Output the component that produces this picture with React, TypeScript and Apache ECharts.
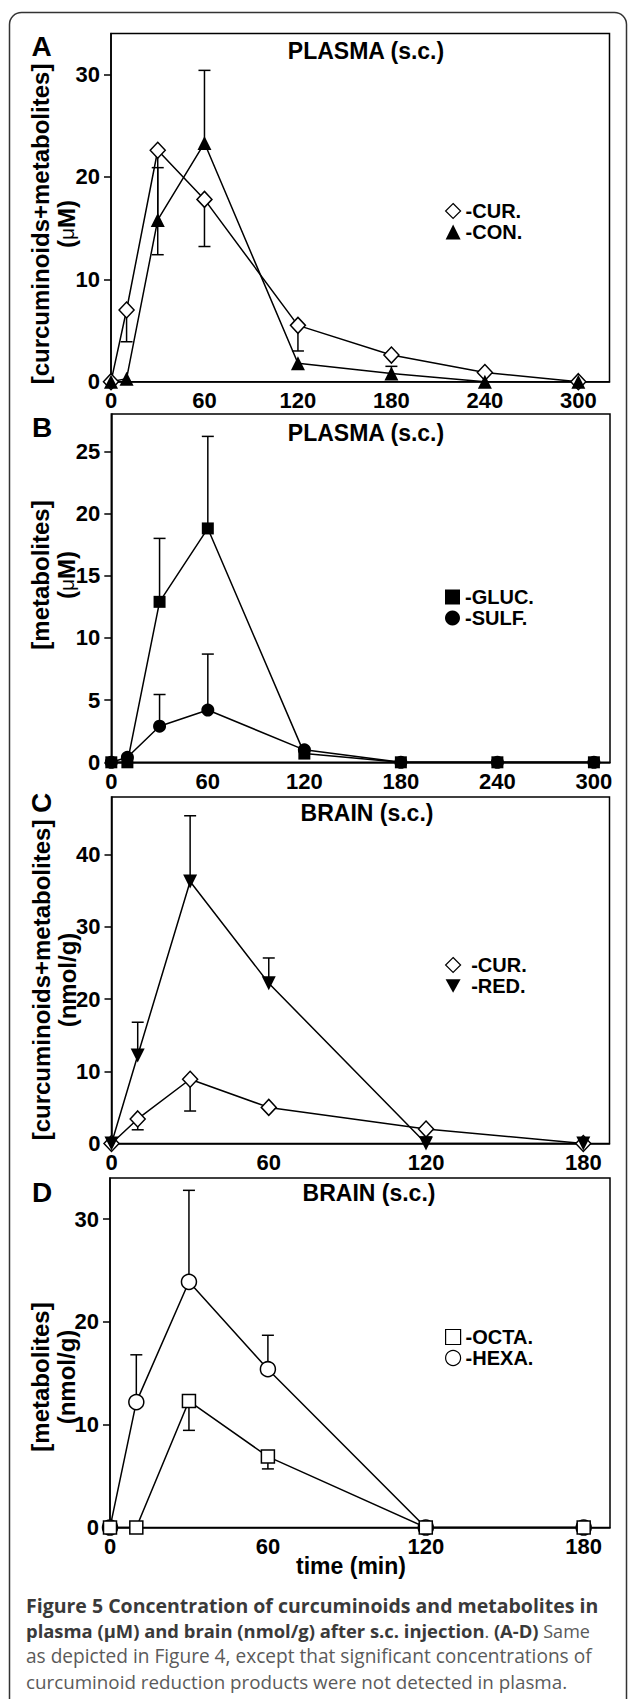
import React, { useEffect, useRef } from "react";
import * as echarts from "echarts";

// ---------- data ----------
const PLASMA_TIMES = [0, 10, 30, 60, 120, 180, 240, 300];
const BRAIN_TIMES = [0, 10, 30, 60, 120, 180];
const PLASMA_XTICKS = [0, 60, 120, 180, 240, 300];
const BRAIN_XTICKS = [0, 60, 120, 180];
const A_YTICKS = [0, 10, 20, 30];
const B_YTICKS = [0, 5, 10, 15, 20, 25];
const C_YTICKS = [0, 10, 20, 30, 40];
const D_YTICKS = [0, 10, 20, 30];

// Panel A – plasma (µM)
const A_CUR = [0, 7.0, 22.6, 17.8, 5.5, 2.6, 0.9, 0];
const A_CUR_ERR = [null, 3.9, 12.4, 13.2, 3.0, null, null, null];
const A_CON = [0, 0.3, 15.8, 23.3, 1.8, 0.8, 0, 0];
const A_CON_ERR = [null, null, 20.9, 30.4, null, 1.5, null, null];
// Panel B – plasma metabolites (µM)
const B_GLUC = [0, 0, 12.9, 18.8, 0.7, 0, 0, 0];
const B_GLUC_ERR = [null, null, 18.0, 26.2, null, null, null, null];
const B_SULF = [0, 0.4, 2.9, 4.2, 1.0, 0, 0, 0];
const B_SULF_ERR = [null, null, 5.45, 8.7, null, null, null, null];
// Panel C – brain (nmol/g)
const C_CUR = [0, 3.4, 8.9, 5.0, 2.0, 0];
const C_CUR_ERR = [null, 1.9, 4.5, null, 0.9, null];
const C_RED = [0, 12.2, 36.3, 22.2, 0, 0];
const C_RED_ERR = [null, 16.8, 45.4, 25.7, null, null];
// Panel D – brain metabolites (nmol/g)
const D_OCTA = [0, 0, 12.3, 6.9, 0, 0];
const D_OCTA_ERR = [null, null, 9.45, 5.7, null, null];
const D_HEXA = [0, 12.2, 23.9, 15.4, 0, 0];
const D_HEXA_ERR = [null, 16.8, 32.8, 18.7, null, null];

const FONT = "'Liberation Sans', Arial, Helvetica, sans-serif";
const CAP_FONT = "'Open Sans', 'Noto Sans', sans-serif";

function lineSeries(
  name: string,
  idx: number,
  times: number[],
  vals: number[],
  symbol: string,
  size: number | number[],
  filled: boolean,
  rotate = 0
) {
  return {
    type: "line",
    name,
    xAxisIndex: idx,
    yAxisIndex: idx,
    data: times.map((t, i) => [t, vals[i]]),
    symbol,
    symbolSize: size,
    symbolRotate: rotate,
    showSymbol: true,
    lineStyle: { color: "#000", width: 1.5 },
    itemStyle: {
      color: filled ? "#000" : "#fff",
      borderColor: "#000",
      borderWidth: filled ? 0 : 1.5,
      opacity: 1,
    },
    z: 3,
    silent: true,
  };
}

function errSeries(idx: number, times: number[], vals: number[], ends: (number | null)[]) {
  const data: number[][] = [];
  times.forEach((t, i) => {
    const e = ends[i];
    if (e !== null && e !== undefined) data.push([t, vals[i], e]);
  });
  return {
    type: "custom",
    xAxisIndex: idx,
    yAxisIndex: idx,
    data,
    z: 2,
    silent: true,
    encode: { x: 0, y: [1, 2] },
    renderItem: (_params: any, api: any) => {
      const x = api.value(0);
      const p1 = api.coord([x, api.value(1)]);
      const p2 = api.coord([x, api.value(2)]);
      return {
        type: "group",
        children: [
          {
            type: "line",
            shape: { x1: p1[0], y1: p1[1], x2: p2[0], y2: p2[1] },
            style: { stroke: "#000", lineWidth: 1.5 },
          },
          {
            type: "line",
            shape: { x1: p2[0] - 6, y1: p2[1], x2: p2[0] + 6, y2: p2[1] },
            style: { stroke: "#000", lineWidth: 1.5 },
          },
        ],
      };
    },
  };
}

// layout of the four panels
const GRIDS = [
  { left: 111, top: 33.5, width: 498.5, height: 348.2 },
  { left: 111.3, top: 414, width: 498.7, height: 348.3 },
  { left: 111.5, top: 797, width: 498, height: 346.5 },
  { left: 110, top: 1178, width: 500, height: 349.5 },
];

function xAxis(idx: number, max: number, ticks: number[]) {
  return {
    type: "value",
    gridIndex: idx,
    min: 0,
    max,
    interval: 60,
    axisLine: { show: true, onZero: false, lineStyle: { color: "#000", width: 1.5 } },
    axisTick: { show: false },
    splitLine: { show: false },
    axisLabel: {
      customValues: ticks,
      margin: 8,
      color: "#000",
      fontSize: 22,
      fontWeight: "bold",
      fontFamily: FONT,
    },
  };
}

function yAxis(idx: number, max: number, interval: number, ticks: number[]) {
  return {
    type: "value",
    gridIndex: idx,
    min: 0,
    max,
    interval,
    axisLine: { show: true, onZero: false, lineStyle: { color: "#000", width: 1.5 } },
    axisTick: { show: true, customValues: ticks, length: 7, lineStyle: { color: "#000", width: 1.5 } },
    splitLine: { show: false },
    axisLabel: {
      customValues: ticks,
      margin: 11,
      color: "#000",
      fontSize: 22,
      fontWeight: "bold",
      fontFamily: FONT,
    },
  };
}

function legend(top: number, items: any[], formatter = "-{name}") {
  return {
    show: true,
    orient: "vertical",
    left: 440,
    top,
    itemWidth: 15,
    itemHeight: 15,
    itemGap: 1,
    selectedMode: false,
    formatter,
    textStyle: { color: "#000", fontSize: 20, fontWeight: "bold", fontFamily: FONT, lineHeight: 20 },
    data: items,
  };
}

const openStyle = { color: "#fff", borderColor: "#000", borderWidth: 1.2 };
const fillStyle = { color: "#000", borderColor: "#000", borderWidth: 0 };

function text(x: number, y: number, str: string, size: number, extra: any = {}) {
  return {
    type: "text",
    x,
    y,
    silent: true,
    style: {
      text: str,
      fill: "#000",
      font: `bold ${size}px ${FONT}`,
      align: "center",
      verticalAlign: "middle",
    },
    ...extra,
  };
}

// rotated two-line y-axis title, centred at (x, y)
function yTitle(x: number, y: number, str: string) {
  return {
    type: "text",
    x,
    y,
    rotation: Math.PI / 2,
    silent: true,
    style: {
      text: str,
      align: "center",
      verticalAlign: "middle",
      rich: {
        a: { fontFamily: FONT, fontSize: 24, fontWeight: "bold", lineHeight: 26, fill: "#000" },
        u: { fontFamily: FONT, fontSize: 21, fontWeight: "normal", lineHeight: 26, fill: "#000" },
      },
    },
  };
}

function caption(y: number, str: string, bSize: number, rSize: number) {
  return {
    type: "text",
    x: 26,
    y,
    silent: true,
    style: {
      text: str,
      align: "left",
      verticalAlign: "middle",
      rich: {
        b: { fontFamily: CAP_FONT, fontSize: bSize, fontWeight: "bold", fill: "#3a3a3a" },
        r: { fontFamily: CAP_FONT, fontSize: rSize, fontWeight: "normal", fill: "#5a5a5a" },
      },
    },
  };
}

export default function App() {
  const ref = useRef<HTMLDivElement>(null);
  useEffect(() => {
    if (!ref.current) return;
    const chart = echarts.init(ref.current, undefined, { renderer: "svg" });
    const option: any = {
      animation: false,
      backgroundColor: "#fff",
      grid: GRIDS.map((g) => ({
        ...g,
        show: true,
        borderColor: "#000",
        borderWidth: 1.5,
        backgroundColor: "transparent",
        containLabel: false,
      })),
      xAxis: [
        xAxis(0, 320, PLASMA_XTICKS),
        xAxis(1, 310, PLASMA_XTICKS),
        xAxis(2, 190, BRAIN_XTICKS),
        xAxis(3, 190, BRAIN_XTICKS),
      ],
      yAxis: [
        yAxis(0, 34, 10, A_YTICKS),
        yAxis(1, 28, 5, B_YTICKS),
        yAxis(2, 48, 10, C_YTICKS),
        yAxis(3, 34, 10, D_YTICKS),
      ],
      legend: [
        legend(196, [
          { name: "CUR.", icon: "diamond", itemStyle: openStyle },
          { name: "CON.", icon: "triangle", itemStyle: fillStyle },
        ]),
        legend(582, [
          { name: "GLUC.", icon: "rect", itemStyle: fillStyle },
          { name: "SULF.", icon: "circle", itemStyle: fillStyle },
        ]),
        legend(
          950,
          [
            { name: "CUR.", icon: "diamond", itemStyle: openStyle },
            { name: "RED.", icon: "path://M0,0L20,0L10,18Z", itemStyle: fillStyle },
          ],
          " -{name}"
        ),
        legend(1322, [
          { name: "OCTA.", icon: "rect", itemStyle: openStyle },
          { name: "HEXA.", icon: "circle", itemStyle: openStyle },
        ]),
      ],
      series: [
        errSeries(0, PLASMA_TIMES, A_CUR, A_CUR_ERR),
        errSeries(0, PLASMA_TIMES, A_CON, A_CON_ERR),
        lineSeries("CUR.", 0, PLASMA_TIMES, A_CUR, "diamond", [15, 16], false),
        lineSeries("CON.", 0, PLASMA_TIMES, A_CON, "triangle", 14, true),

        errSeries(1, PLASMA_TIMES, B_GLUC, B_GLUC_ERR),
        errSeries(1, PLASMA_TIMES, B_SULF, B_SULF_ERR),
        lineSeries("SULF.", 1, PLASMA_TIMES, B_SULF, "circle", 13, true),
        lineSeries("GLUC.", 1, PLASMA_TIMES, B_GLUC, "rect", 12, true),

        errSeries(2, BRAIN_TIMES, C_CUR, C_CUR_ERR),
        errSeries(2, BRAIN_TIMES, C_RED, C_RED_ERR),
        lineSeries("CUR.", 2, BRAIN_TIMES, C_CUR, "diamond", [15, 16], false),
        lineSeries("RED.", 2, BRAIN_TIMES, C_RED, "triangle", 14, true, 180),

        errSeries(3, BRAIN_TIMES, D_OCTA, D_OCTA_ERR),
        errSeries(3, BRAIN_TIMES, D_HEXA, D_HEXA_ERR),
        lineSeries("HEXA.", 3, BRAIN_TIMES, D_HEXA, "circle", 15, false),
        lineSeries("OCTA.", 3, BRAIN_TIMES, D_OCTA, "rect", 13, false),
      ],
      graphic: [
        {
          type: "rect",
          silent: true,
          shape: { x: 9.5, y: 12.5, width: 617, height: 1720, r: 12 },
          style: { fill: "none", stroke: "#333", lineWidth: 1.5 },
        },
        text(41.7, 46.7, "A", 28),
        text(42, 427, "B", 28),
        text(41, 803, "C", 28, { rotation: Math.PI / 2 }),
        text(42, 1192, "D", 28),
        text(366, 51, "PLASMA (s.c.)", 23),
        text(366, 433, "PLASMA (s.c.)", 23),
        text(367, 813, "BRAIN (s.c.)", 23),
        text(369, 1193, "BRAIN (s.c.)", 23),
        yTitle(53, 224, "{a|[curcuminoids+metabolites]}\n{a|(}{u|\u03bc}{a|M)}"),
        yTitle(53, 575, "{a|[metabolites]}\n{a|(}{u|\u03bc}{a|M)}"),
        yTitle(54, 980, "{a|[curcuminoids+metabolites]}\n{a|(nmol/g)}"),
        yTitle(53, 1377, "{a|[metabolites]}\n{a|(nmol/g)}"),
        text(351, 1566, "time (min)", 23),
        caption(1605, "{b|Figure 5 Concentration of curcuminoids and metabolites in}", 19.5, 19),
        caption(
          1630.5,
          "{b|plasma (\u03bcM) and brain (nmol/g) after s.c. injection}{r|. }{b|(A-D)}{r| Same}",
          18.4,
          18
        ),
        caption(1656, "{r|as depicted in Figure 4, except that significant concentrations of}", 19, 19.1),
        caption(1681.5, "{r|curcuminoid reduction products were not detected in plasma.}", 19, 18.8),
      ],
    };
    chart.setOption(option);
    return () => chart.dispose();
  }, []);
  return (
    <div
      ref={ref}
      style={{ position: "absolute", left: 0, top: 0, width: 629, height: 1699, background: "#fff" }}
    />
  );
}
